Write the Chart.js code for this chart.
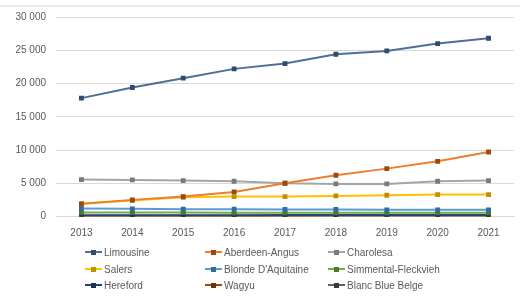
<!DOCTYPE html>
<html><head><meta charset="utf-8">
<script src="https://cdn.jsdelivr.net/npm/chart.js@4"></script>
<style>
html,body{margin:0;padding:0;background:#fff;}
#wrap{position:relative;width:520px;height:302px;overflow:hidden;}
#topline{position:absolute;left:0;top:5px;width:520px;height:2px;background:#ececec;}
canvas{position:absolute;left:0;top:0;}
.lg{position:absolute;font:10px "Liberation Sans","Open Sans",sans-serif;color:#595959;white-space:nowrap;height:12px;line-height:12px;}
.lg .ln{display:inline-block;position:relative;width:17px;height:2px;vertical-align:middle;margin-right:2px;top:-1px;}
.lg .mk{position:absolute;left:6px;top:-1.5px;width:5px;height:5px;}
</style></head>
<body><div id="wrap"><div id="topline"></div><canvas id="c" width="520" height="302"></canvas><div id="legend"></div></div>
<script>
const years = ["2013","2014","2015","2016","2017","2018","2019","2020","2021"];
const limousine = [17800, 19400, 20800, 22200, 23000, 24400, 24900, 26000, 26800];
const aberdeenAngus = [1900, 2500, 3000, 3700, 5000, 6200, 7200, 8300, 9700];
const charolesa = [5550, 5500, 5400, 5300, 5000, 4900, 4900, 5300, 5400];
const salers = [1900, 2400, 2900, 3000, 3000, 3100, 3200, 3300, 3300];
const blondeAquitaine = [1200, 1150, 1100, 1100, 1050, 1050, 1000, 1000, 1000];
const simmental = [600, 600, 600, 550, 550, 550, 550, 550, 550];
const hereford = [180, 190, 200, 200, 210, 210, 220, 220, 230];
const wagyu = [50, 60, 70, 80, 90, 100, 110, 120, 130];
const blancBlueBelge = [100, 100, 100, 100, 100, 100, 100, 100, 100];
const yTicks = [0, 5000, 10000, 15000, 20000, 25000, 30000];

const series = [
  ["Limousine", limousine, "#4e6f96", "#2f4c6e"],
  ["Aberdeen-Angus", aberdeenAngus, "#ED7D31", "#9E480E"],
  ["Charolesa", charolesa, "#A5A5A5", "#7a7a7a"],
  ["Salers", salers, "#FFC000", "#bf9000"],
  ["Blonde D'Aquitaine", blondeAquitaine, "#5B9BD5", "#2e6da4"],
  ["Simmental-Fleckvieh", simmental, "#70AD47", "#4b7a2e"],
  ["Hereford", hereford, "#264478", "#1a2f54"],
  ["Wagyu", wagyu, "#9E480E", "#6b300a"],
  ["Blanc Blue Belge", blancBlueBelge, "#636363", "#3a3a3a"]
];

const fmt = v => String(v).replace(/\B(?=(\d{3})+(?!\d))/g, " ");

new Chart(document.getElementById("c"), {
  type: "line",
  data: {
    labels: years,
    datasets: series.map(s => ({
      label: s[0], data: s[1], borderColor: s[2], backgroundColor: s[3],
      pointBackgroundColor: s[3], pointBorderColor: s[3],
      borderWidth: 2, pointRadius: 2, pointStyle: "rect", tension: 0, fill: false
    }))
  },
  options: {
    responsive: false, animation: false,
    layout: { padding: { left: 0, right: 6, top: 17, bottom: 0 } },
    plugins: { legend: { display: false }, tooltip: { enabled: false } },
    scales: {
      x: {
        offset: true,
        grid: { display: false, drawTicks: false },
        border: { display: true, color: "#d9d9d9" },
        ticks: { padding: 11, color: "#595959", font: { family: "Liberation Sans", size: 10 }, maxRotation: 0 },
        afterFit: s => { s.height = 85.5; }
      },
      y: {
        min: 0, max: 30000,
        afterBuildTicks: s => { s.ticks = yTicks.map(v => ({ value: v })); },
        grid: { color: "#d9d9d9", drawTicks: false },
        border: { display: false },
        ticks: { padding: 10, color: "#595959", font: { family: "Liberation Sans", size: 10 }, callback: v => fmt(v) },
        afterFit: s => { s.width = 56; }
      }
    }
  }
});

const pos = [[85,247],[205,247],[328,247],[85,264],[205,264],[328,264],[85,280],[205,280],[328,280]];
const lg = document.getElementById("legend");
series.forEach((s, i) => {
  const d = document.createElement("div");
  d.className = "lg";
  d.style.left = pos[i][0] + "px"; d.style.top = pos[i][1] + "px";
  const ln = document.createElement("span"); ln.className = "ln"; ln.style.background = s[2];
  const mk = document.createElement("span"); mk.className = "mk"; mk.style.background = s[3];
  ln.appendChild(mk);
  d.appendChild(ln);
  d.appendChild(document.createTextNode(s[0]));
  lg.appendChild(d);
});
</script></body></html>
